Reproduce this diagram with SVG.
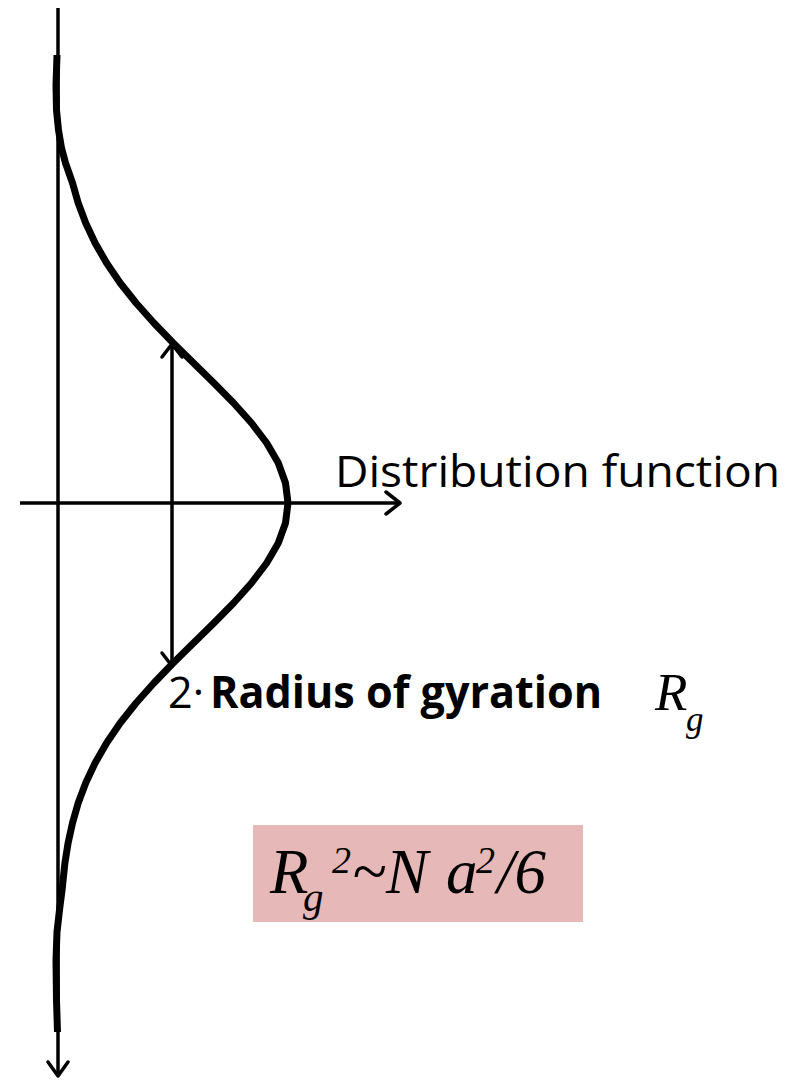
<svg xmlns="http://www.w3.org/2000/svg" width="798" height="1080" viewBox="0 0 798 1080">
<style>
.ax{fill:none;stroke:#000;stroke-width:3.5}
.hd{fill:none;stroke:#000;stroke-width:3.5;stroke-linecap:round;stroke-linejoin:round}
.cv{fill:none;stroke:#000;stroke-width:7;stroke-linejoin:round;stroke-linecap:butt}
.cal{font-family:"Open Sans","Liberation Sans",sans-serif;fill:#000}
.tm{font-family:"Liberation Serif",serif;font-style:italic;fill:#000}
</style>
<rect width="798" height="1080" fill="#fff"/>
<g id="connectors">
<line class="ax" x1="58" y1="8" x2="58" y2="1076"/>
<polyline class="hd" points="48,1062 58,1076 68,1062"/>
<line class="ax" x1="20" y1="503" x2="400" y2="503"/>
<polyline class="hd" points="386,492 400,503 386,514"/>
<line class="ax" x1="172" y1="344" x2="172" y2="666"/>
<polyline class="hd" points="162,357 172,344 182,357"/>
<polyline class="hd" points="162,653 172,666 182,653"/>
</g>
<g id="curve">
<polyline class="cv" points="57,55 56,85 56.5,110 58.5,130 61.5,148 65.5,163 72.5,183 78.2,203 85.7,223 95.1,243 106.6,263 120.2,283 136.1,303 153.9,323 173.2,343 193.5,363 213.9,383 233.6,403 251.5,423 266.7,443 278.3,463 285.5,483 288,503 285.5,523 278.3,543 266.7,563 251.5,583 233.6,603 213.9,623 193.5,643 173.2,663 153.9,683 136.1,703 120.2,723 106.6,743 95.1,763 85.7,783 78.2,803 72.5,823 68.1,843 64.9,863 62.3,888 59.5,910 57,932 56,960 56.5,1000 57.5,1032"/>
</g>
<g id="label-distribution">
<text class="cal" x="335" y="487" font-size="44" textLength="445" lengthAdjust="spacingAndGlyphs">Distribution function</text>
</g>
<g id="label-radius">
<text class="cal" x="168" y="708" font-size="44" textLength="36" lengthAdjust="spacingAndGlyphs">2·</text>
<text class="cal" x="210" y="708" font-size="44" font-weight="bold" textLength="392" lengthAdjust="spacingAndGlyphs">Radius of gyration</text>
<text class="tm" x="655" y="710" font-size="53">R</text>
<text class="tm" x="686" y="731" font-size="35">g</text>
</g>
<g id="formula">
<rect x="253" y="825" width="330" height="97" fill="#e6b8b7"/>
<text class="tm" font-size="63"><tspan x="270" y="893">R</tspan><tspan x="303" y="911" font-size="41">g</tspan><tspan x="332" y="873" font-size="38">2</tspan><tspan x="352" y="893">~N</tspan><tspan x="446" y="893">a</tspan><tspan x="476" y="873" font-size="38">2</tspan><tspan x="497" y="893">/6</tspan></text>
</g>
</svg>
